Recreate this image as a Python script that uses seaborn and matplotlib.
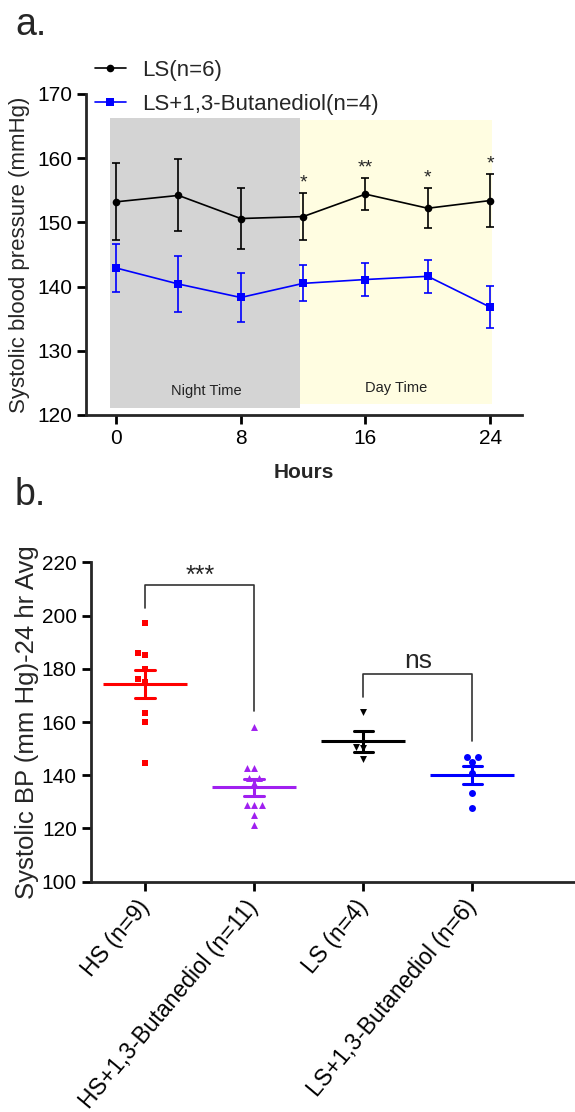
import numpy as np
import pandas as pd
import seaborn as sns
import matplotlib.pyplot as plt

sns.set_style("ticks")
plt.rcParams['font.family'] = ['Liberation Sans', 'DejaVu Sans']

# Panel a: systolic BP over 24 h (mean, SEM)
hours = [0, 4, 8, 12, 16, 20, 24]
ls_mean = [153.2, 154.2, 150.6, 150.9, 154.4, 152.2, 153.4]
ls_sem = [6.0, 5.6, 4.8, 3.6, 2.5, 3.1, 4.1]
bd_mean = [142.9, 140.4, 138.3, 140.5, 141.1, 141.6, 136.8]
bd_sem = [3.8, 4.4, 3.8, 2.8, 2.6, 2.6, 3.3]
line_labels = ['LS(n=6)', 'LS+1,3-Butanediol(n=4)']
sig_hours = [12, 16, 20, 24]
sig_marks = ['*', '**', '*', '*']

# Panel b: 24 hr average per animal
groups = ['HS (n=9)', 'HS+1,3-Butanediol (n=11)', 'LS (n=4)', 'LS+1,3-Butanediol (n=6)']
hs_vals = [197.3, 186.0, 185.2, 180.0, 176.0, 175.1, 163.5, 160.1, 144.5]
hs_bd_vals = [158.2, 142.7, 142.7, 139.0, 138.8, 137.0, 128.7, 128.7, 128.7, 124.9, 121.2]
ls_vals = [163.9, 150.8, 150.1, 146.0]
ls_bd_vals = [146.9, 146.7, 145.1, 140.9, 133.2, 127.8]
comparisons = [(0, 1, '***'), (2, 3, 'ns')]

colors_a = ['black', '#0000ff']
colors_b = ['#ff0000', '#a020f0', 'black', '#0000ff']
markers_b = ['s', '^', 'v', 'o']

fig = plt.figure(figsize=(5.75, 11.12), dpi=100)
ax1 = fig.add_axes([0.1496, 0.6268, 0.7583, 0.2887])
ax2 = fig.add_axes([0.1577, 0.2071, 0.8423, 0.2872])

# ---- panel a
df_a = pd.DataFrame({
    'Hours': hours * 2,
    'bp': ls_mean + bd_mean,
    'sem': ls_sem + bd_sem,
    'group': [line_labels[0]] * len(hours) + [line_labels[1]] * len(hours),
})

ax1.axvspan(-0.4, 11.8, ymin=0.022, ymax=0.924, color='#d4d4d4', lw=0, zorder=0)
ax1.axvspan(11.8, 24.1, ymin=0.034, ymax=0.918, color='#fffde1', lw=0, zorder=0)
ax1.text(5.76, 123.8, 'Night Time', ha='center', va='center', fontsize=10.5, color='#222222')
ax1.text(18.0, 124.2, 'Day Time', ha='center', va='center', fontsize=10.5, color='#222222')

sns.lineplot(data=df_a, x='Hours', y='bp', hue='group', style='group',
             markers=['o', 's'], dashes=False, palette=colors_a,
             markersize=5.5, markeredgewidth=0, linewidth=1.2, ax=ax1)
for (g, d), c in zip(df_a.groupby('group', sort=False), colors_a):
    ax1.errorbar(d['Hours'], d['bp'], yerr=d['sem'], fmt='none', ecolor=c,
                 elinewidth=1.2, capsize=3, capthick=1.2)

ls_top = df_a[df_a.group == line_labels[0]].set_index('Hours')
for h, m in zip(sig_hours, sig_marks):
    top = ls_top.loc[h, 'bp'] + ls_top.loc[h, 'sem']
    ax1.annotate(m, (h, top), xytext=(0, 1.5), textcoords='offset points',
                 ha='center', va='bottom', fontsize=14)

sns.move_legend(ax1, 'upper left', bbox_to_anchor=(0.02, 1.106), frameon=False,
                title=None, fontsize=16, handlelength=1.4, handletextpad=0.75,
                labelspacing=0.6, borderpad=0, borderaxespad=0)

ax1.set_xlim(-1.93, 26.05)
ax1.set_ylim(120, 170)
ax1.set_xticks([0, 8, 16, 24])
ax1.set_yticks(np.arange(120, 171, 10))
ax1.set_xlabel('Hours', fontsize=15, fontweight='bold', labelpad=11)
ax1.set_ylabel('Systolic blood pressure (mmHg)', fontsize=16, labelpad=5)

# ---- panel b
vals = [hs_vals, hs_bd_vals, ls_vals, ls_bd_vals]
df_b = pd.DataFrame({
    'group': np.repeat(groups, [len(v) for v in vals]),
    'value': np.concatenate(vals),
})

for g, c, m in zip(groups, colors_b, markers_b):
    sns.swarmplot(data=df_b[df_b.group == g], x='group', y='value', order=groups,
                  color=c, marker=m, size=5, linewidth=0, ax=ax2)

sns.pointplot(data=df_b, x='group', y='value', hue='group', order=groups,
              palette=dict(zip(groups, colors_b)), errorbar='se', capsize=0.18,
              markers='_', linestyle='none', markersize=60, markeredgewidth=2.2,
              err_kws={'linewidth': 2.2}, legend=False, ax=ax2)

for i, j, lab in comparisons:
    yi = max(vals[i]) + 5.5
    yj = max(vals[j]) + 6
    top = max(vals[i]) + 14.2
    ax2.plot([i, i, j, j], [yi, top, top, yj], color='#333333', lw=1.2)
    ax2.annotate(lab, ((i + j) / 2, top), xytext=(0, 1.5 if lab == '***' else 4),
                 textcoords='offset points', ha='center', va='baseline',
                 fontsize=18 if lab == '***' else 19)

ax2.set_xlim(-0.5, 3.94)
ax2.set_ylim(100, 220)
ax2.set_yticks(np.arange(100, 221, 20))
ax2.set_xlabel('')
ax2.set_ylabel('Systolic BP (mm Hg)-24 hr Avg', fontsize=18.5, labelpad=2)

for ax in (ax1, ax2):
    sns.despine(ax=ax)
    for s in ('left', 'bottom'):
        ax.spines[s].set_linewidth(2)
    ax.tick_params(width=2, length=6.5, labelsize=15, colors='black')
ax2.tick_params(axis='x', pad=9, labelsize=16.5)
for lab in ax2.get_xticklabels():
    lab.set_rotation(50)
    lab.set_ha('right')
    lab.set_rotation_mode('anchor')
    lab.set_va('center')

fig.text(0.026, 0.9685, 'a.', fontsize=27, va='baseline')
fig.text(0.026, 0.546, 'b.', fontsize=27, va='baseline')

fig.savefig('out.png', dpi=100)
